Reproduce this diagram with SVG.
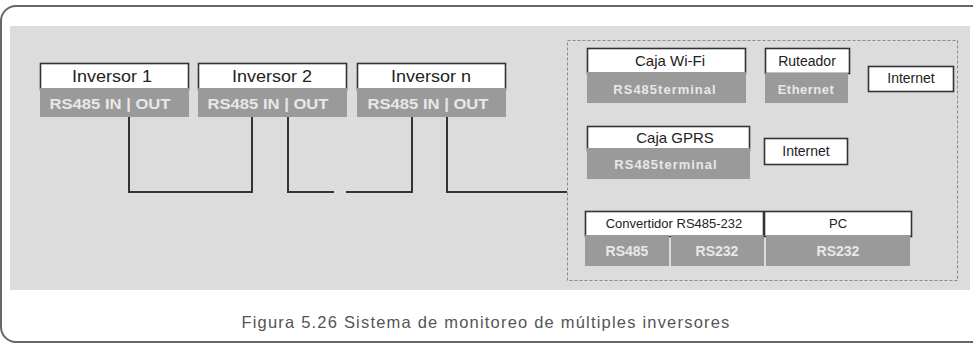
<svg xmlns="http://www.w3.org/2000/svg" width="973" height="343" viewBox="0 0 973 343">
<style>
.frame{fill:#fff;stroke:#666;stroke-width:2}
.bg{fill:#dcdcdc}
.dash{fill:none;stroke:#8a8a8a;stroke-width:1;stroke-dasharray:3 2}
.wt{fill:#fff;stroke:#333;stroke-width:1.6}
.gb{fill:#9a9a9a}
.t{font-family:"Liberation Sans",Arial,sans-serif;font-size:14px;fill:#222;text-anchor:middle}
.ti{font-family:"Liberation Sans",Arial,sans-serif;font-size:16px;fill:#222;text-anchor:middle}
.g{font-family:"Liberation Sans",Arial,sans-serif;font-size:13px;font-weight:bold;fill:#e8e8e8;text-anchor:middle}
.gi{font-family:"Liberation Sans",Arial,sans-serif;font-size:15px;font-weight:bold;fill:#e8e8e8;text-anchor:middle}
.c{fill:none;stroke:#333;stroke-width:2}
.cap{font-family:"Liberation Sans",Arial,sans-serif;font-size:16.5px;fill:#555;text-anchor:middle;letter-spacing:1.2px}
</style>
<rect class="frame" x="1" y="6" width="1000" height="336" rx="15"/>
<rect class="bg" x="10" y="26" width="960" height="264"/>
<rect class="dash" x="567.5" y="40.5" width="390" height="240"/>
<g id="connectors">
<polyline class="c" points="129,117 129,192 252,192 252,117"/>
<polyline class="c" points="288,117 288,192 334,192"/>
<polyline class="c" points="346,192 412,192 412,117"/>
<polyline class="c" points="447,117 447,192 567,192"/>
</g>
<g id="inversor1">
<rect class="wt" x="40.5" y="63.5" width="148" height="26"/>
<rect class="gb" x="40" y="88" width="149" height="29"/>
<text class="ti" x="112" y="82" textLength="80" lengthAdjust="spacingAndGlyphs">Inversor 1</text>
<text class="gi" x="110" y="109" textLength="121" lengthAdjust="spacingAndGlyphs">RS485 IN | OUT</text>
</g>
<g id="inversor2">
<rect class="wt" x="198.5" y="63.5" width="148" height="26"/>
<rect class="gb" x="198" y="88" width="149" height="29"/>
<text class="ti" x="272" y="82" textLength="80" lengthAdjust="spacingAndGlyphs">Inversor 2</text>
<text class="gi" x="268" y="109" textLength="121" lengthAdjust="spacingAndGlyphs">RS485 IN | OUT</text>
</g>
<g id="inversorn">
<rect class="wt" x="357.5" y="63.5" width="148" height="26"/>
<rect class="gb" x="357" y="88" width="149" height="29"/>
<text class="ti" x="431" y="82" textLength="80" lengthAdjust="spacingAndGlyphs">Inversor n</text>
<text class="gi" x="428" y="109" textLength="121" lengthAdjust="spacingAndGlyphs">RS485 IN | OUT</text>
</g>
<g id="cajawifi">
<rect class="wt" x="587.5" y="48.5" width="158" height="25"/>
<rect class="gb" x="587" y="72" width="159" height="31"/>
<text class="t" x="670" y="66" style="font-size:15px">Caja Wi-Fi</text>
<text class="g" x="665" y="94" style="letter-spacing:1px">RS485terminal</text>
</g>
<g id="ruteador">
<rect class="wt" x="765.5" y="48.5" width="84" height="25"/>
<rect class="gb" x="765" y="73" width="83" height="30"/>
<text class="t" x="807" y="66">Ruteador</text>
<text class="g" x="806" y="94" style="letter-spacing:0.5px">Ethernet</text>
</g>
<g id="internet1">
<rect class="wt" x="868.5" y="66.5" width="85" height="25"/>
<text class="t" x="911" y="83">Internet</text>
</g>
<g id="cajagprs">
<rect class="wt" x="587.5" y="126.5" width="162" height="24"/>
<rect class="gb" x="587" y="148" width="163" height="31"/>
<text class="t" x="675" y="143" style="font-size:15px">Caja GPRS</text>
<text class="g" x="666" y="169" style="letter-spacing:1px">RS485terminal</text>
</g>
<g id="internet2">
<rect class="wt" x="764.5" y="138.5" width="83" height="26"/>
<text class="t" x="806" y="156">Internet</text>
</g>
<g id="convertidor">
<rect class="wt" x="585.5" y="211.5" width="178" height="25"/>
<rect class="gb" x="585" y="235" width="84" height="31"/>
<rect class="gb" x="671" y="235" width="93" height="31"/>
<text class="t" x="674" y="228" style="font-size:13px">Convertidor RS485-232</text>
<text class="g" x="627" y="256" style="font-size:14px">RS485</text>
<text class="g" x="717" y="256" style="font-size:14px">RS232</text>
</g>
<g id="pc">
<rect class="wt" x="764.5" y="211.5" width="147" height="25"/>
<rect class="gb" x="766" y="235" width="144" height="31"/>
<text class="t" x="838" y="228" style="font-size:13px">PC</text>
<text class="g" x="838" y="256" style="font-size:14px">RS232</text>
</g>
<text class="cap" x="486" y="328">Figura 5.26 Sistema de monitoreo de múltiples inversores</text>
</svg>
